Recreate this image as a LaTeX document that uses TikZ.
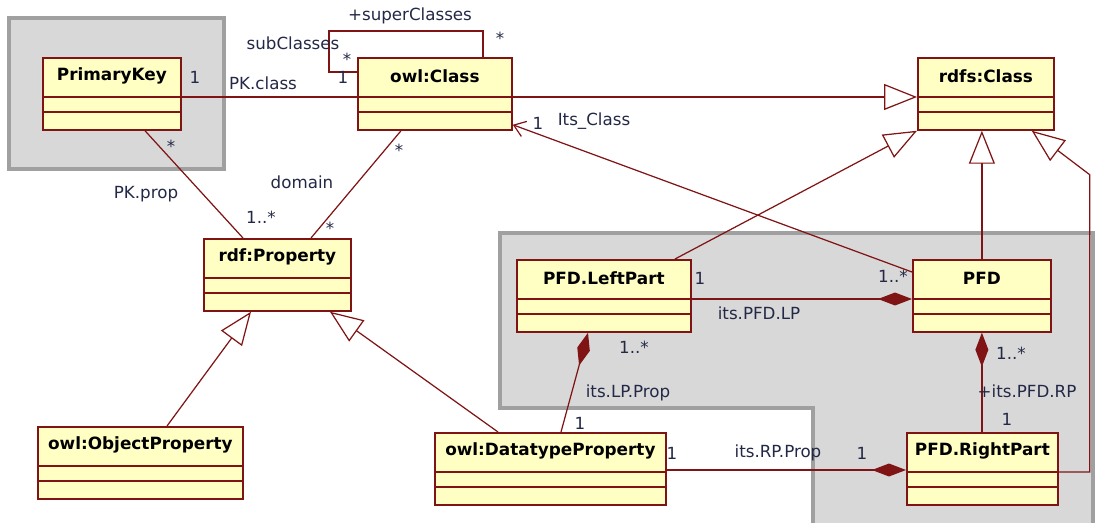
\documentclass[tikz,border=0pt]{standalone}
\usepackage{fontspec}
\setmainfont{DejaVu Sans}
\usetikzlibrary{positioning,calc,arrows.meta}
\definecolor{umlred}{RGB}{128,20,20}
\definecolor{umlfill}{RGB}{255,255,196}
\definecolor{pkgfill}{RGB}{216,216,216}
\definecolor{pkgline}{RGB}{160,160,160}
\definecolor{lbl}{RGB}{35,40,70}

\tikzset{
  classbox/.style={draw=umlred, fill=umlfill, line width=1pt, minimum height=72*0.02cm, inner sep=0pt, anchor=north west},
  classname/.style={font=\bfseries\fontsize{9.6}{11}\selectfont, text=black, inner sep=0pt},
  lab/.style={font=\fontsize{9.5}{11}\selectfont, text=lbl, inner sep=1pt},
  assoc/.style={draw=umlred, line width=0.7pt},
  gen/.style={assoc, -{Triangle[open, length=0.66cm, width=0.52cm]}},
  comp/.style={assoc, -{Diamond[length=0.68cm, width=0.26cm, fill=umlred]}},
  nav/.style={assoc, -{Straight Barb[length=0.22cm, width=0.32cm]}},
  pkg/.style={fill=pkgfill, draw=pkgline, line width=2.2pt},
}

% class box with name and two empty compartments
\newcommand{\umlclass}[5]{%
  \node[classbox, minimum width=#4*0.02cm] (#1) at (#2,#3) {};
  \node[classname] (#1-title) at ($(#1.north)+(0,19)$) {#5};
  \coordinate (#1-hw) at ($(#1.north west)+(0,40)$);
  \coordinate (#1-he) at ($(#1.north east)+(0,40)$);
  \draw[draw=umlred, line width=1pt] (#1-hw) -- (#1-he);
  \draw[draw=umlred, line width=1pt] ($(#1-hw)+(0,15)$) -- ($(#1-he)+(0,15)$);
}

\begin{document}
\begin{tikzpicture}[x=0.02cm, y=-0.02cm]
\useasboundingbox (0,0) rectangle (1098,523);

% packages
\draw[pkg] (9,18) rectangle (224,169);
\draw[pkg] (500,233) -- (1093,233) -- (1093,530) -- (813,530) -- (813,408) -- (500,408) -- cycle;

% classes
\umlclass{pk}{42}{57}{138}{PrimaryKey}
\umlclass{owlc}{357}{57}{154}{owl:Class}
\umlclass{rdfsc}{917}{57}{136}{rdfs:Class}
\umlclass{rdfp}{203}{238}{147}{rdf:Property}
\umlclass{objp}{37}{426}{205}{owl:ObjectProperty}
\umlclass{datap}{434}{432}{231}{owl:DatatypeProperty}
\umlclass{lp}{516}{259}{174}{PFD.LeftPart}
\umlclass{pfd}{912}{259}{138}{PFD}
\umlclass{rp}{906}{432}{151}{PFD.RightPart}

% owl:Class self association
\draw[assoc] ($(owlc.north west)+(0,15)$) -- ++(-28,0) -- ++(0,-41) -| ($(owlc.north west)+(126,0)$);
\node[lab] (sup) at (410,16) {+superClasses};
\node[lab] (sub) at (293,43) {subClasses};
\node[lab] (supm) at (500,38) {*};
\node[lab] (subm) at (347,59) {*};
\node[lab] (subo) at (343,77) {1};

% associations
\draw[assoc] (pk-he) -- (owlc-hw);
\node[lab] (pkone) at (195,77) {1};
\node[lab] (pkcls) at (263,83) {PK.class};

\draw[assoc] ($(pk.south west)+(103,0)$) -- ($(rdfp.north west)+(40,0)$);
\node[lab] (pkst) at (171,146) {*};
\node[lab] (pkprop) at (146,194) {PK.prop};
\node[lab] (pkmul) at (261,217) {1..*};

\draw[assoc] ($(owlc.south west)+(44,0)$) -- ($(rdfp.north west)+(108,0)$);
\node[lab] (dost) at (399,150) {*};
\node[lab] (dom) at (302,182) {domain};
\node[lab] (dost2) at (330,228) {*};

% generalizations
\draw[gen] (owlc-he) -- (rdfsc-hw);
\draw[gen] ($(lp.north west)+(159,0)$) -- (rdfsc.south west);
\draw[gen] (pfd.north) -- (pfd.north |- rdfsc.south);
\draw[gen] (rp-he) -| ($(rdfsc.south east)+(35,44)$) -- ($(rdfsc.south east)+(-23,0)$);
\draw[gen] ($(objp.north west)+(130,0)$) -- ($(rdfp.south west)+(48,0)$);
\draw[gen] ($(datap.north west)+(64,0)$) -- ($(rdfp.south west)+(127,0)$);

% PFD to owl:Class
\draw[nav] ($(pfd.north west)+(0,13)$) -- ($(owlc.south east)+(0,-6)$);
\node[lab] (itsone) at (538,123) {1};
\node[lab] (itscls) at (594,121) {Its\_Class};

% compositions
\draw[comp] (lp-he) -- (pfd-hw);
\node[lab] (lpone) at (700,278) {1};
\node[lab] (lpmul) at (893,276) {1..*};
\node[lab] (lpname) at (759,313) {its.PFD.LP};

\draw[comp] ($(datap.north west)+(127,0)$) -- ($(lp.south west)+(72,0)$);
\node[lab] (lppmul) at (634,347) {1..*};
\node[lab] (lppname) at (628,393) {its.LP.Prop};
\node[lab] (lppone) at (580,423) {1};

\draw[comp] (rp.north -| pfd.south) -- (pfd.south);
\node[lab] (rpmul) at (1011,353) {1..*};
\node[lab] (rpname) at (1027,391) {+its.PFD.RP};
\node[lab] (rpone) at (1007,419) {1};

\draw[comp] ($(datap-he)+(0,-2)$) -- ($(rp-hw)+(0,-2)$);
\node[lab] (dpone) at (672,453) {1};
\node[lab] (dpname) at (778,453) {its.RP.Prop};
\node[lab] (dpone2) at (862,453) {1};

\end{tikzpicture}
\end{document}
